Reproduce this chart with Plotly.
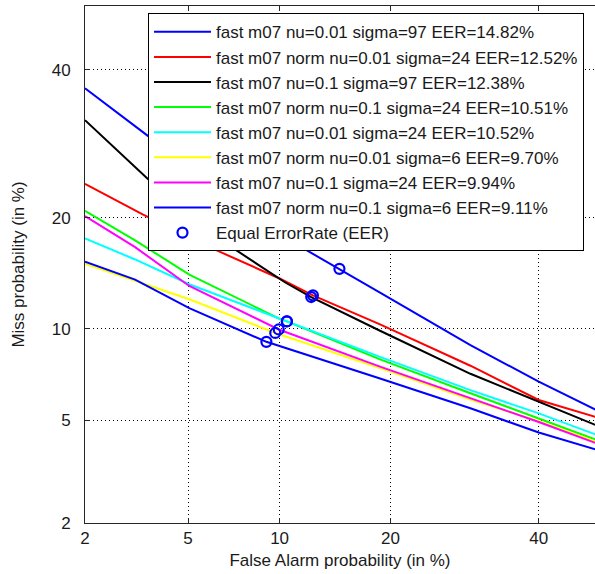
from statistics import NormalDist
import plotly.graph_objects as go

# DET curves: false alarm (%) vs miss (%) for each configuration
labels = [
    "fast m07 nu=0.01 sigma=97 EER=14.82%",
    "fast m07 norm nu=0.01 sigma=24 EER=12.52%",
    "fast m07 nu=0.1 sigma=97 EER=12.38%",
    "fast m07 norm nu=0.1 sigma=24 EER=10.51%",
    "fast m07 nu=0.01 sigma=24 EER=10.52%",
    "fast m07 norm nu=0.01 sigma=6 EER=9.70%",
    "fast m07 nu=0.1 sigma=24 EER=9.94%",
    "fast m07 norm nu=0.1 sigma=6 EER=9.11%",
]
colors = ["#0000FF", "#FF0000", "#000000", "#00FF00",
          "#00FFFF", "#FFFF00", "#FF00FF", "#0000FF"]

fa_1 = [2, 3.56, 11.73, 14.82, 18.86, 30, 40, 49]
miss_1 = [37.2, 30.3, 16.8, 14.82, 12.75, 8.9, 6.78, 5.43]

fa_2 = [2, 3.4, 6.05, 10.0, 12.52, 18.86, 30, 40, 49]
miss_2 = [24.0, 20.4, 16.8, 13.95, 12.52, 10.3, 7.65, 5.88, 5.12]

fa_3 = [2, 3.56, 7.05, 10.4, 12.38, 18.86, 30, 40, 49]
miss_3 = [32.5, 24.6, 16.9, 13.6, 12.38, 9.85, 7.2, 5.8, 4.79]

fa_4 = [2, 3.18, 5.05, 10.0, 10.51, 18.86, 30, 40, 49]
miss_4 = [20.8, 17.6, 14.3, 10.7, 10.51, 8.02, 6.2, 5.05, 4.24]

fa_5 = [2, 3.18, 5.05, 10.52, 18.86, 30, 40, 49]
miss_5 = [17.8, 15.7, 13.45, 10.52, 8.17, 6.35, 5.28, 4.43]

fa_6 = [2, 3.18, 5.05, 9.70, 18.86, 30, 40, 49]
miss_6 = [15.3, 13.75, 12.2, 9.70, 7.52, 5.9, 4.95, 4.17]

fa_7 = [2, 3.18, 5.05, 9.94, 18.86, 30, 40, 49]
miss_7 = [20.2, 16.9, 13.3, 9.94, 7.6, 5.95, 4.92, 4.12]

fa_8 = [2, 3.18, 5.05, 9.11, 18.86, 30, 40, 49]
miss_8 = [15.5, 13.85, 11.5, 9.11, 6.95, 5.5, 4.51, 3.9]

eer = [14.82, 12.52, 12.38, 10.51, 10.52, 9.70, 9.94, 9.11]

tick_pct = [2, 5, 10, 20, 40]
tick_text = ["2", "5", "10", "20", "40"]

fa_all = [fa_1, fa_2, fa_3, fa_4, fa_5, fa_6, fa_7, fa_8]
miss_all = [miss_1, miss_2, miss_3, miss_4, miss_5, miss_6, miss_7, miss_8]

nd = NormalDist()


def probit(values):
    return [nd.inv_cdf(v / 100.0) for v in values]


fig = go.Figure()
for fa, miss, name, col in zip(fa_all, miss_all, labels, colors):
    fig.add_trace(go.Scatter(
        x=probit(fa), y=probit(miss), mode="lines", name=name,
        line=dict(color=col, width=2),
    ))

fig.add_trace(go.Scatter(
    x=probit(eer), y=probit(eer), mode="markers", name="Equal ErrorRate (EER)",
    marker=dict(symbol="circle-open", size=10, color="#0000FF",
                line=dict(width=2.2, color="#0000FF")),
))

font = dict(family="Liberation Sans, Arial, sans-serif", size=17, color="#1a1a1a")
axis_common = dict(
    tickvals=probit(tick_pct), ticktext=tick_text,
    showgrid=True, gridcolor="#000000", gridwidth=1, griddash="1px,3px",
    zeroline=False, showline=True, linecolor="#262626", linewidth=1,
    ticks="inside", ticklen=5, tickcolor="#262626", tickfont=font,
)

fig.update_xaxes(
    **axis_common,
    range=[nd.inv_cdf(0.02), nd.inv_cdf(0.488)],
    mirror="ticks",
    ticklabelstandoff=0,
    title=dict(text="False Alarm probability (in %)", font=font, standoff=6),
)
fig.update_yaxes(
    **axis_common,
    range=[nd.inv_cdf(0.02), 0.0],
    mirror=False,
    ticklabelstandoff=10,
    title=dict(text="Miss probability (in %)", font=font, standoff=22),
)

fig.update_layout(
    width=595, height=574,
    margin=dict(l=85, r=0, t=6, b=51),
    paper_bgcolor="white", plot_bgcolor="white",
    font=font,
    showlegend=True,
    legend=dict(
        x=0.1235, y=0.986, xanchor="left", yanchor="top",
        bgcolor="white", bordercolor="#000000", borderwidth=1,
        font=font, itemwidth=57, tracegroupgap=0,
    ),
)

fig.write_html("out.html")
